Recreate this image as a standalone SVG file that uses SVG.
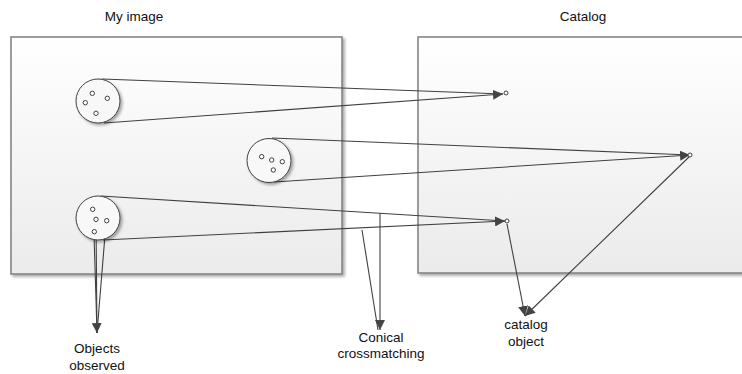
<svg xmlns="http://www.w3.org/2000/svg" width="742" height="374" viewBox="0 0 742 374">
<defs>
<linearGradient id="boxg" x1="0" y1="0" x2="0" y2="1">
<stop offset="0" stop-color="#ffffff"/>
<stop offset="1" stop-color="#ebebeb"/>
</linearGradient>
<filter id="sh" x="-5%" y="-5%" width="115%" height="115%">
<feGaussianBlur in="SourceAlpha" stdDeviation="1.5"/>
<feOffset dx="2" dy="2"/>
<feComponentTransfer><feFuncA type="linear" slope="0.35"/></feComponentTransfer>
<feMerge><feMergeNode/><feMergeNode in="SourceGraphic"/></feMerge>
</filter>
<marker id="arr" viewBox="0 0 10 10" refX="10" refY="5" markerWidth="10" markerHeight="10" markerUnits="userSpaceOnUse" orient="auto">
<path d="M0,0 L10,5 L0,10 Z" fill="#444"/>
</marker>
</defs>
<style>
.box{fill:url(#boxg);stroke:#7f7f7f;stroke-width:1.5;filter:url(#sh)}
.cone{fill:#f8f8f8;stroke:#404040;stroke-width:1;filter:url(#sh)}
.dot{fill:#fff;stroke:#404040;stroke-width:1}
.ln{stroke:#404040;stroke-width:1.1;fill:none}
.ar{marker-end:url(#arr)}
text{font-family:"Liberation Sans",Arial,sans-serif;font-size:13.5px;fill:#111;text-anchor:middle}
</style>
<rect width="742" height="374" fill="#fff"/>
<g id="my-image">
<rect class="box" x="11" y="37" width="331" height="237"/>
<text x="134" y="21">My image</text>
</g>
<g id="catalog">
<rect class="box" x="418" y="37" width="330" height="236"/>
<text x="583" y="21">Catalog</text>
</g>
<g id="connectors">
<line class="ln" x1="102" y1="79" x2="503" y2="94"/>
<line class="ln ar" x1="104" y1="123" x2="503" y2="94"/>
<line class="ln" x1="272" y1="138" x2="690" y2="155"/>
<line class="ln ar" x1="274" y1="182" x2="690" y2="155"/>
<line class="ln" x1="101" y1="196" x2="505" y2="221"/>
<line class="ln ar" x1="103" y1="240" x2="505" y2="221"/>
<line class="ln ar" x1="507" y1="224" x2="525" y2="316"/>
<line class="ln ar" x1="689" y1="157" x2="525" y2="316"/>
<line class="ln" x1="96" y1="221" x2="97" y2="333"/>
<line class="ln ar" x1="94" y1="234" x2="97" y2="333"/>
<line class="ln" x1="106" y1="223" x2="97" y2="333"/>
<line class="ln ar" x1="380" y1="213" x2="380" y2="330"/>
<line class="ln" x1="362" y1="230" x2="378" y2="330"/>
</g>
<g id="cone1">
<circle class="cone" cx="98" cy="101" r="22"/>
<circle class="dot" cx="92.3" cy="93.3" r="2.2"/>
<circle class="dot" cx="107.3" cy="98.3" r="2.2"/>
<circle class="dot" cx="85.3" cy="102.7" r="2.2"/>
<circle class="dot" cx="96" cy="113.3" r="2.2"/>
</g>
<g id="cone2">
<circle class="cone" cx="269" cy="160.5" r="22"/>
<circle class="dot" cx="261.7" cy="156.7" r="2.2"/>
<circle class="dot" cx="271.7" cy="160" r="2.2"/>
<circle class="dot" cx="282.3" cy="161.7" r="2.2"/>
<circle class="dot" cx="273.3" cy="170" r="2.2"/>
</g>
<g id="cone3">
<circle class="cone" cx="98" cy="218" r="22"/>
<circle class="dot" cx="92.7" cy="209.3" r="2.2"/>
<circle class="dot" cx="96" cy="219.3" r="2.2"/>
<circle class="dot" cx="106.7" cy="220.7" r="2.2"/>
<circle class="dot" cx="94.3" cy="231.7" r="2.2"/>
</g>
<g id="catalog-objects">
<circle class="dot" cx="506" cy="93" r="2"/>
<circle class="dot" cx="690" cy="155" r="2"/>
<circle class="dot" cx="507" cy="221" r="2"/>
</g>
<g id="label-objects">
<text x="97" y="353">Objects</text>
<text x="97" y="370">observed</text>
</g>
<g id="label-conical">
<text x="381" y="342">Conical</text>
<text x="381" y="358">crossmatching</text>
</g>
<g id="label-catalog-object">
<text x="526" y="329">catalog</text>
<text x="526" y="346">object</text>
</g>
</svg>
